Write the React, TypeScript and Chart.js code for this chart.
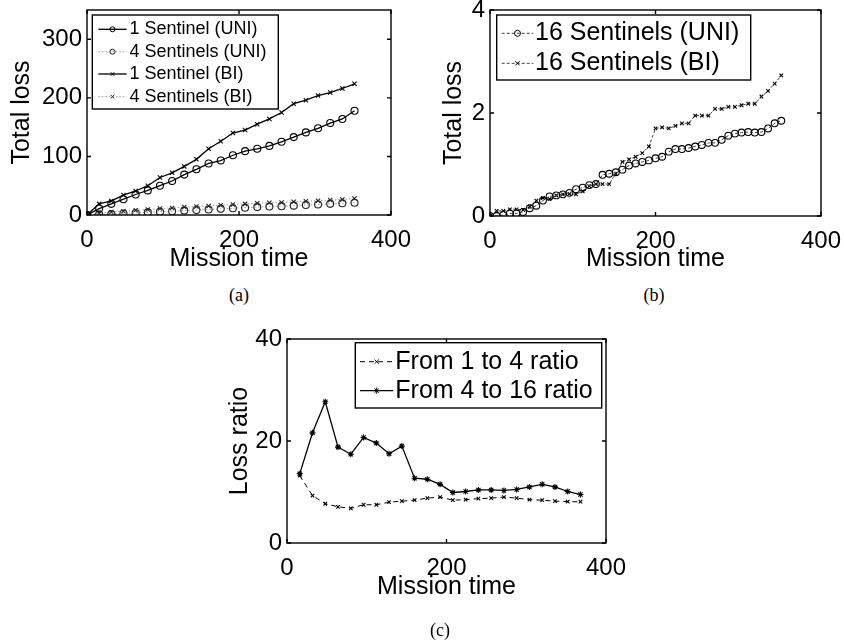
import React, { useEffect, useRef } from "react";
import { Chart, registerables } from "chart.js";
import { drawPoint } from "chart.js/helpers";

Chart.register(...registerables);

const FONT = "'Liberation Sans', Arial, Helvetica, sans-serif";

// ---------- (a) ----------
const timeA = [0, 16, 32, 48, 64, 80, 96, 112, 128, 144, 160, 176, 192, 208, 224, 240, 256, 272, 288, 304, 320, 336, 352];
const lossUni1 = [0, 11, 19, 27, 35, 42, 50, 58, 69, 78, 88, 93, 102, 109, 113, 118, 125, 133, 141, 148, 157, 164, 178];
const lossUni4 = [0, 1, 1.5, 2.5, 3.5, 4.5, 5.5, 6.5, 7.5, 8.5, 9.5, 10.5, 11.5, 12.5, 13.5, 14.5, 15, 16, 17, 18, 19, 20, 21];
const lossBi1 = [0, 19, 24, 34, 41, 50, 64, 72, 83, 95, 113, 126, 140, 145, 155, 164, 175, 190, 196, 204, 209, 216, 224];
const lossBi4 = [0, 3, 5, 6.5, 8, 9.5, 11, 12, 13.5, 14.5, 15.5, 16.5, 18, 19, 20, 21, 21.5, 22.5, 23.5, 24.5, 25.5, 26.5, 28];

// ---------- (b) ----------
const timeB = [0, 8, 16, 24, 32, 40, 48, 56, 64, 72, 80, 88, 96, 104, 112, 120, 128, 136, 144, 152, 160, 168, 176, 184, 192, 200, 208, 216, 224, 232, 240, 248, 256, 264, 272, 280, 288, 296, 304, 312, 320, 328, 336, 344, 352];
const lossUni16 = [0, 0, 0.02, 0.05, 0.05, 0.08, 0.15, 0.2, 0.3, 0.38, 0.4, 0.42, 0.45, 0.52, 0.55, 0.6, 0.62, 0.8, 0.82, 0.85, 0.9, 0.98, 1.02, 1.05, 1.08, 1.12, 1.15, 1.25, 1.3, 1.3, 1.32, 1.35, 1.38, 1.42, 1.42, 1.48, 1.56, 1.6, 1.62, 1.63, 1.62, 1.63, 1.7, 1.8, 1.85];
const lossBi16 = [0, 0.1, 0.1, 0.13, 0.13, 0.12, 0.18, 0.3, 0.35, 0.33, 0.4, 0.42, 0.43, 0.42, 0.48, 0.58, 0.62, 0.62, 0.62, 0.82, 1.05, 1.1, 1.15, 1.22, 1.35, 1.7, 1.72, 1.7, 1.75, 1.8, 1.8, 1.95, 1.95, 1.95, 2.08, 2.08, 2.12, 2.12, 2.15, 2.18, 2.18, 2.32, 2.43, 2.57, 2.73];

// ---------- (c) ----------
const timeC = [16, 32, 48, 64, 80, 96, 112, 128, 144, 160, 176, 192, 208, 224, 240, 256, 272, 288, 304, 320, 336, 352, 368];
const ratio1to4 = [13.2, 9.3, 7.7, 7.1, 6.8, 7.5, 7.5, 8.0, 8.2, 8.4, 8.8, 9.0, 8.4, 8.5, 8.7, 8.8, 9.0, 8.8, 8.5, 8.4, 8.2, 8.1, 8.1];
const ratio4to16 = [13.6, 21.6, 27.7, 18.8, 17.4, 20.7, 19.6, 17.5, 19.0, 12.7, 12.5, 11.5, 9.9, 10.1, 10.4, 10.4, 10.3, 10.5, 11.0, 11.5, 11.0, 10.1, 9.5];

const xTickStep = 200;
const xTitle = "Mission time";

function pts(xs: number[], ys: number[]) {
  return xs.map((x, i) => ({ x, y: ys[i] }));
}

const matlabPlugin = {
  id: "matlab",
  afterDatasetsDraw(chart: any, _args: any, opts: any) {
    const { ctx, chartArea: a, scales } = chart;
    ctx.save();
    ctx.strokeStyle = "#000";
    ctx.lineWidth = 1.4;
    ctx.setLineDash([]);
    ctx.strokeRect(a.left, a.top, a.right - a.left, a.bottom - a.top);
    const tl = 4;
    ctx.beginPath();
    for (const t of scales.x.ticks) {
      const px = scales.x.getPixelForValue(t.value);
      ctx.moveTo(px, a.bottom);
      ctx.lineTo(px, a.bottom - tl);
      ctx.moveTo(px, a.top);
      ctx.lineTo(px, a.top + tl);
    }
    for (const t of scales.y.ticks) {
      const py = scales.y.getPixelForValue(t.value);
      ctx.moveTo(a.left, py);
      ctx.lineTo(a.left + tl, py);
      ctx.moveTo(a.right, py);
      ctx.lineTo(a.right - tl, py);
    }
    ctx.stroke();

    const lg = opts && opts.legend;
    if (lg) {
      ctx.fillStyle = "#fff";
      ctx.fillRect(lg.left, lg.top, lg.width, lg.height);
      ctx.lineWidth = 1.4;
      ctx.strokeStyle = "#000";
      ctx.strokeRect(lg.left, lg.top, lg.width, lg.height);
      chart.data.datasets.forEach((ds: any, i: number) => {
        const y = lg.rows[i];
        ctx.save();
        ctx.strokeStyle = ds.borderColor;
        ctx.lineWidth = ds.borderWidth;
        ctx.setLineDash(ds.borderDash || []);
        ctx.beginPath();
        ctx.moveTo(lg.x0, y);
        ctx.lineTo(lg.x1, y);
        ctx.stroke();
        ctx.restore();
        ctx.save();
        ctx.strokeStyle = ds.pointBorderColor;
        ctx.fillStyle = "rgba(0,0,0,0)";
        ctx.lineWidth = 1;
        ctx.setLineDash([]);
        drawPoint(ctx, { pointStyle: ds.pointStyle, radius: lg.markerR, rotation: 0, borderWidth: 1 }, (lg.x0 + lg.x1) / 2, y);
        ctx.restore();
        ctx.fillStyle = "#000";
        ctx.font = `${lg.fontSize}px ${FONT}`;
        ctx.textBaseline = "middle";
        ctx.textAlign = "left";
        ctx.fillText(ds.label, lg.textX, y);
      });
    }
    ctx.restore();
  },
};

type Box = { l: number; t: number; r: number; b: number };

function makeConfig(p: {
  W: number; H: number; box: Box; yTitleX: number; xTitleY: number;
  xMax: number; yMax: number; yStep: number; yTitle: string;
  datasets: any[]; legend: any;
}) {
  const titleFont = 25;
  const half = (titleFont * 1.2) / 2;
  const padL = p.yTitleX - half;
  return {
    type: "line",
    data: { datasets: p.datasets },
    plugins: [matlabPlugin],
    options: {
      responsive: false,
      animation: false,
      devicePixelRatio: 1,
      layout: { padding: { left: padL, top: p.box.t, right: p.W - p.box.r, bottom: 0 } },
      elements: { line: { tension: 0 } },
      plugins: {
        legend: { display: false },
        tooltip: { enabled: false },
        matlab: { legend: p.legend },
      },
      scales: {
        x: {
          type: "linear",
          min: 0,
          max: p.xMax,
          ticks: { stepSize: xTickStep, font: { family: FONT, size: 24 }, color: "#000", padding: 11, maxRotation: 0, autoSkip: false, includeBounds: false },
          grid: { display: false, drawTicks: false },
          border: { display: false },
          title: { display: true, text: xTitle, color: "#000", font: { family: FONT, size: titleFont }, padding: { top: 0, bottom: p.H - p.xTitleY - half } },
          afterFit: (s: any) => {
            s.height = p.H - p.box.b;
            s.paddingLeft = 0;
            s.paddingRight = 0;
          },
        },
        y: {
          type: "linear",
          min: 0,
          max: p.yMax,
          ticks: { stepSize: p.yStep, font: { family: FONT, size: 24 }, color: "#000", padding: 5, includeBounds: false },
          grid: { display: false, drawTicks: false },
          border: { display: false },
          title: { display: true, text: p.yTitle, color: "#000", font: { family: FONT, size: titleFont }, padding: { top: 0, bottom: 0 } },
          afterFit: (s: any) => {
            s.width = p.box.l - padL;
            s.paddingTop = 0;
            s.paddingBottom = 0;
          },
        },
      },
    },
  };
}

const cfgA = () =>
  makeConfig({
    W: 420, H: 280, box: { l: 87, t: 10, r: 391, b: 215 }, yTitleX: 22.5, xTitleY: 259,
    xMax: 400, yMax: 350, yStep: 100, yTitle: "Total loss",
    datasets: [
      { label: "1 Sentinel (UNI)", data: pts(timeA, lossUni1), borderColor: "#000", borderWidth: 1.3, pointStyle: "circle", pointRadius: 3.5, pointBorderColor: "#000", pointBackgroundColor: "rgba(0,0,0,0)", pointBorderWidth: 1.1 },
      { label: "4 Sentinels (UNI)", data: pts(timeA, lossUni4), borderColor: "#999", borderWidth: 1, borderDash: [1.5, 2], pointStyle: "circle", pointRadius: 3.5, pointBorderColor: "#222", pointBackgroundColor: "rgba(0,0,0,0)", pointBorderWidth: 1.1 },
      { label: "1 Sentinel (BI)", data: pts(timeA, lossBi1), borderColor: "#000", borderWidth: 1.3, pointStyle: "crossRot", pointRadius: 3, pointBorderColor: "#000", pointBackgroundColor: "rgba(0,0,0,0)", pointBorderWidth: 1.1 },
      { label: "4 Sentinels (BI)", data: pts(timeA, lossBi4), borderColor: "#999", borderWidth: 1, borderDash: [1.5, 2], pointStyle: "crossRot", pointRadius: 3, pointBorderColor: "#222", pointBackgroundColor: "rgba(0,0,0,0)", pointBorderWidth: 1.1 },
    ],
    legend: { left: 92.3, top: 15, width: 186, height: 94, rows: [29.3, 51.7, 74, 96.7], x0: 98.3, x1: 126.7, textX: 129.5, fontSize: 18, markerR: 2.5 },
  });

const cfgB = () =>
  makeConfig({
    W: 424, H: 280, box: { l: 70, t: 10, r: 401, b: 216 }, yTitleX: 34, xTitleY: 259,
    xMax: 400, yMax: 4, yStep: 2, yTitle: "Total loss",
    datasets: [
      { label: "16 Sentinels (UNI)", data: pts(timeB, lossUni16), borderColor: "#444", borderWidth: 1, borderDash: [3, 2], pointStyle: "circle", pointRadius: 3.4, pointBorderColor: "#000", pointBackgroundColor: "rgba(0,0,0,0)", pointBorderWidth: 1.1 },
      { label: "16 Sentinels (BI)", data: pts(timeB, lossBi16), borderColor: "#444", borderWidth: 1, borderDash: [3, 2], pointStyle: "crossRot", pointRadius: 2.5, pointBorderColor: "#000", pointBackgroundColor: "rgba(0,0,0,0)", pointBorderWidth: 1.1 },
    ],
    legend: { left: 76.7, top: 15, width: 254, height: 65, rows: [33.3, 63.3], x0: 81.7, x1: 113.3, textX: 115, fontSize: 25, markerR: 3 },
  });

const cfgC = () =>
  makeConfig({
    W: 440, H: 300, box: { l: 87, t: 19, r: 406, b: 223 }, yTitleX: 40, xTitleY: 267,
    xMax: 400, yMax: 40, yStep: 20, yTitle: "Loss ratio",
    datasets: [
      { label: "From 1 to 4 ratio", data: pts(timeC, ratio1to4), borderColor: "#000", borderWidth: 1, borderDash: [5, 4], pointStyle: "crossRot", pointRadius: 2.5, pointBorderColor: "#000", pointBackgroundColor: "rgba(0,0,0,0)", pointBorderWidth: 1.1 },
      { label: "From 4 to 16 ratio", data: pts(timeC, ratio4to16), borderColor: "#000", borderWidth: 1.3, pointStyle: "star", pointRadius: 3, pointBorderColor: "#000", pointBackgroundColor: "rgba(0,0,0,0)", pointBorderWidth: 1.1 },
    ],
    legend: { left: 155.3, top: 22.7, width: 246.4, height: 65.3, rows: [41.7, 70.7], x0: 160, x1: 193.3, textX: 195.3, fontSize: 25, markerR: 3 },
  });

function ChartCanvas({ left, top, width, height, make }: { left: number; top: number; width: number; height: number; make: () => any }) {
  const ref = useRef<HTMLCanvasElement>(null);
  useEffect(() => {
    const chart = new Chart(ref.current as HTMLCanvasElement, make());
    return () => chart.destroy();
  }, []);
  return (
    <canvas
      ref={ref}
      width={width}
      height={height}
      style={{ position: "absolute", left, top, width, height }}
    />
  );
}

const captionStyle: React.CSSProperties = {
  position: "absolute",
  fontFamily: "'Liberation Serif', 'Times New Roman', serif",
  fontSize: 18,
  color: "#000",
  transform: "translate(-50%, -50%)",
  whiteSpace: "nowrap",
};

export default function App() {
  return (
    <div style={{ position: "fixed", left: 0, top: 0, width: 844, height: 644, background: "#fff", overflow: "hidden" }}>
      <ChartCanvas left={0} top={0} width={420} height={280} make={cfgA} />
      <ChartCanvas left={420} top={0} width={424} height={280} make={cfgB} />
      <ChartCanvas left={200} top={320} width={440} height={300} make={cfgC} />
      <div style={{ ...captionStyle, left: 239, top: 295 }}>(a)</div>
      <div style={{ ...captionStyle, left: 654, top: 295 }}>(b)</div>
      <div style={{ ...captionStyle, left: 440, top: 630 }}>(c)</div>
    </div>
  );
}
